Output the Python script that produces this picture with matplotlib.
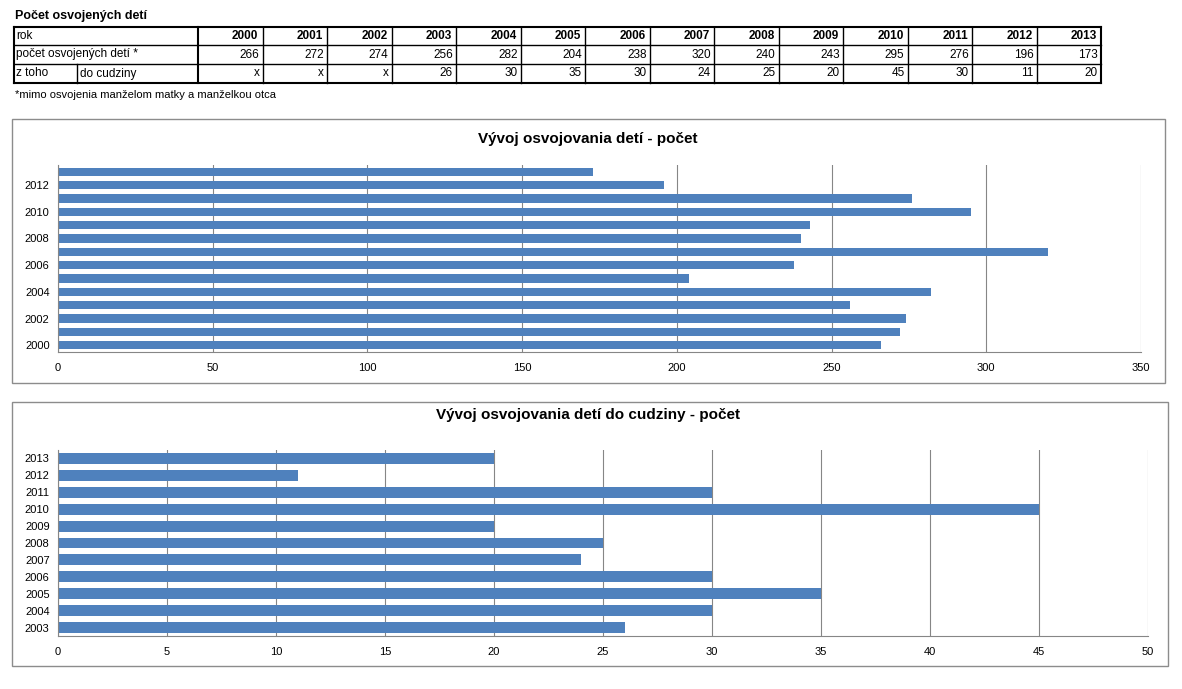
import matplotlib.pyplot as plt

years = list(range(2000, 2014))
adopted = [266, 272, 274, 256, 282, 204, 238, 320, 240, 243, 295, 276, 196, 173]
abroad_years = list(range(2003, 2014))
abroad = [26, 30, 35, 30, 24, 25, 20, 45, 30, 11, 20]
abroad_row = ['x', 'x', 'x'] + [str(v) for v in abroad]

W, H = 1182, 689
fig = plt.figure(figsize=(W / 100, H / 100), dpi=100)
plt.rcParams['font.family'] = ['Liberation Sans', 'DejaVu Sans']

# overlay axes in pixel coords for the table and frames
ov = fig.add_axes([0, 0, 1, 1])
ov.set_xlim(0, W)
ov.set_ylim(H, 0)
ov.axis('off')

ov.text(15, 16, 'Počet osvojených detí', fontsize=9, fontweight='bold', va='center')

x0, x1 = 14, 1101
rows = [27, 45, 64, 83]
first_w = 184
col_w = (x1 - x0 - first_w) / len(years)
cols = [x0 + first_w + i * col_w for i in range(len(years) + 1)]
for y in rows:
    ov.plot([x0, x1], [y, y], color='black', lw=1.5 if y in (27, 83) else 1)
ov.plot([x0, x0], [rows[0], rows[-1]], color='black', lw=1.5)
for c in cols:
    ov.plot([c, c], [rows[0], rows[-1]], color='black', lw=1.5 if c in (cols[0], cols[-1]) else 1)
ov.plot([77, 77], [rows[2], rows[3]], color='black', lw=1)

ov.text(16, 36, 'rok', fontsize=8.5, va='center')
ov.text(16, 54.5, 'počet osvojených detí *', fontsize=8.5, va='center')
ov.text(16, 73.5, 'z toho', fontsize=8.5, va='center')
ov.text(80, 73.5, 'do cudziny', fontsize=8.5, va='center')
for i, yr in enumerate(years):
    ov.text(cols[i + 1] - 4, 36, str(yr), fontsize=8.5, fontweight='bold', ha='right', va='center')
    ov.text(cols[i + 1] - 3, 54.5, str(adopted[i]), fontsize=8.5, ha='right', va='center')
    ov.text(cols[i + 1] - 3, 73.5, abroad_row[i], fontsize=8.5, ha='right', va='center')
ov.text(15, 95, '*mimo osvojenia manželom matky a manželkou otca', fontsize=8, va='center')

# chart frames
for (bx0, by0, bx1, by1) in [(12, 119, 1165, 383), (12, 402, 1168, 666)]:
    ov.add_patch(plt.Rectangle((bx0, by0), bx1 - bx0, by1 - by0, fill=False, ec='#8c8c8c', lw=1))

bar_color = '#4F81BD'


def px_axes(l, t, r, b):
    return fig.add_axes([l / W, 1 - b / H, (r - l) / W, (b - t) / H])


def style(ax, xmax, step):
    ax.set_xlim(0, xmax)
    ax.set_xticks(range(0, xmax + 1, step))
    ax.grid(axis='x', color='#868686', lw=0.8)
    ax.set_axisbelow(True)
    for s in ['top', 'right']:
        ax.spines[s].set_visible(False)
    ax.spines['left'].set_color('#868686')
    ax.spines['bottom'].set_color('#868686')
    ax.tick_params(axis='both', labelsize=8, length=0, pad=6)


ax1 = px_axes(58, 165, 1141, 352)
ax1.barh(years, adopted, height=0.62, color=bar_color)
ax1.set_ylim(1999.5, 2013.5)
ax1.set_yticks(years[::2])
style(ax1, 350, 50)
ax1.tick_params(axis='x', pad=8)
ov.text(588, 139, 'Vývoj osvojovania detí - počet', fontsize=11, fontweight='bold', ha='center', va='center')

ax2 = px_axes(58, 450, 1148, 636)
ax2.barh(abroad_years, abroad, height=0.65, color=bar_color)
ax2.set_ylim(2002.5, 2013.5)
ax2.set_yticks(abroad_years)
style(ax2, 50, 5)
ax2.tick_params(axis='x', pad=8)
ov.text(588, 415, 'Vývoj osvojovania detí do cudziny - počet', fontsize=11, fontweight='bold', ha='center', va='center')

fig.savefig('out.png', dpi=100)
